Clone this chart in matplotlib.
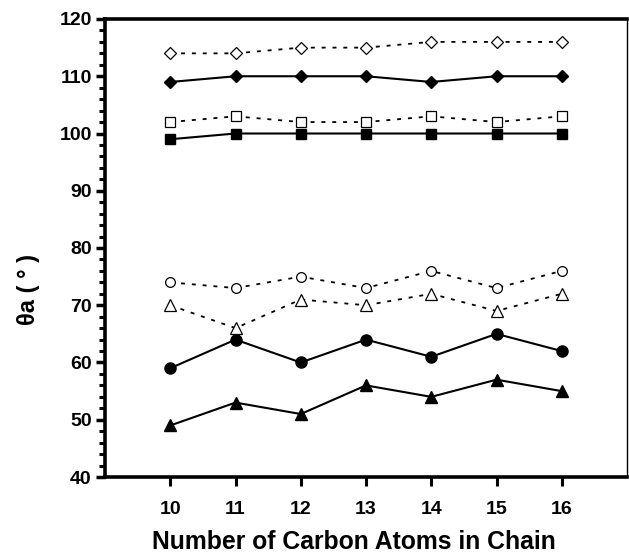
import matplotlib
matplotlib.use("Agg")
import matplotlib.pyplot as plt
from matplotlib.ticker import MultipleLocator

plt.rcParams['font.family'] = ['Liberation Sans', 'DejaVu Sans']

carbons = [10, 11, 12, 13, 14, 15, 16]
open_diamond = [114, 114, 115, 115, 116, 116, 116]
filled_diamond = [109, 110, 110, 110, 109, 110, 110]
open_square = [102, 103, 102, 102, 103, 102, 103]
filled_square = [99, 100, 100, 100, 100, 100, 100]
open_circle = [74, 73, 75, 73, 76, 73, 76]
open_triangle = [70, 66, 71, 70, 72, 69, 72]
filled_circle = [59, 64, 60, 64, 61, 65, 62]
filled_triangle = [49, 53, 51, 56, 54, 57, 55]

fig = plt.figure(figsize=(6.29, 5.6), dpi=100)
ax = fig.add_axes([105/629, 1 - 477/560, (627 - 105)/629, (477 - 19)/560])

dot = dict(color='black', lw=1.3, ls=(0, (2.2, 3.8)), mfc='white', mec='black', mew=0.9)
sol = dict(color='black', lw=1.5, mfc='black', mec='black')

ax.plot(carbons, open_diamond, marker='D', ms=6.5, **dot)
ax.plot(carbons, filled_diamond, marker='D', ms=6.5, **sol)
ax.plot(carbons, open_square, marker='s', ms=7, **dot)
ax.plot(carbons, filled_square, marker='s', ms=7, **sol)
ax.plot(carbons, open_circle, marker='o', ms=7, **dot)
ax.plot(carbons, open_triangle, marker='^', ms=8, **dot)
ax.plot(carbons, filled_circle, marker='o', ms=8, **sol)
ax.plot(carbons, filled_triangle, marker='^', ms=8.5, **sol)

ax.set_xlim(9, 17)
ax.set_ylim(40, 120)
ax.set_xticks(carbons)
ax.yaxis.set_major_locator(MultipleLocator(10))
ax.yaxis.set_minor_locator(MultipleLocator(2))

for s in ['left', 'bottom', 'top']:
    ax.spines[s].set_linewidth(2.6)
ax.spines['right'].set_linewidth(1.0)

ax.tick_params(axis='y', which='major', direction='out', length=6.5, width=2.5, labelsize=14, pad=3)
ax.tick_params(axis='y', which='minor', direction='out', length=4.5, width=2.2)
ax.tick_params(axis='x', which='major', direction='out', length=6.5, width=2.2, labelsize=14, pad=11)
for lab in ax.get_xticklabels() + ax.get_yticklabels():
    lab.set_fontweight('bold')

ax.set_xlabel('Number of Carbon Atoms in Chain', fontsize=17.8, fontweight='bold')
ax.xaxis.set_label_coords(0.477, -0.115)
ax.set_ylabel('θa ( ° )', fontsize=17, fontweight='bold')
ax.yaxis.set_label_coords(-0.125, 0.41)

fig.savefig('out.png', dpi=100)
